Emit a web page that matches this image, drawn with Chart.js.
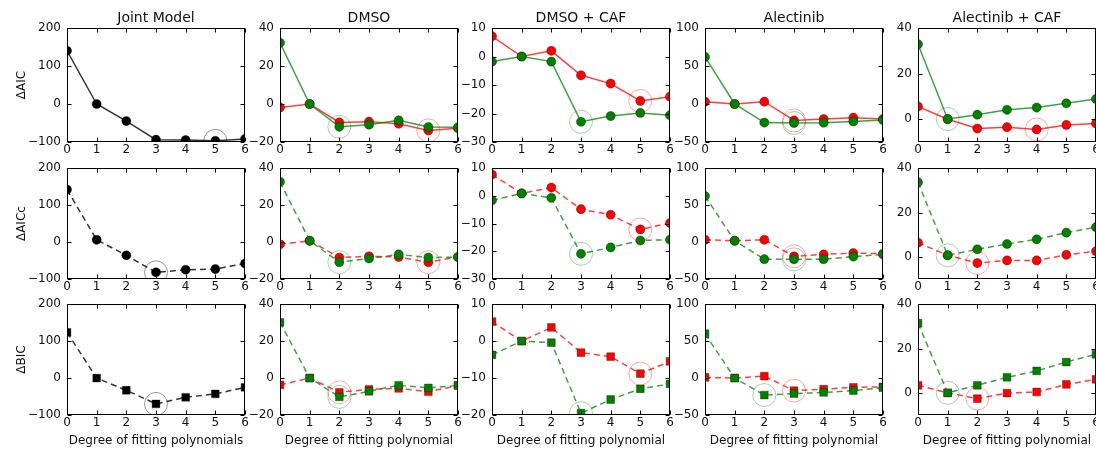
<!DOCTYPE html>
<html>
<head>
<meta charset="utf-8">
<script src="https://cdn.jsdelivr.net/npm/chart.js@4/dist/chart.umd.min.js"></script>
<style>
  html, body { margin: 0; padding: 0; background: #fff; overflow: hidden; width: 1096px; height: 449px; }
  .cell { position: absolute; }
</style>
</head>
<body>
<script>
// ---- data ----
const degrees = [0, 1, 2, 3, 4, 5, 6];
const columnTitles = ['Joint Model', 'DMSO', 'DMSO + CAF', 'Alectinib', 'Alectinib + CAF'];
const rowLabels = ['\u0394AIC', '\u0394AICc', '\u0394BIC'];
const xTitles = ['Degree of fitting polynomials', 'Degree of fitting polynomial', 'Degree of fitting polynomial',
                 'Degree of fitting polynomial', 'Degree of fitting polynomial'];

// y axis ticks / limits
const jointTicks = [-100, 0, 100, 200];
const dmsoTicks = [-20, 0, 20, 40];
const dmsoCafTicks = [-30, -20, -10, 0, 10];
const dmsoCafBicTicks = [-20, -10, 0, 10];
const alecTicks = [-50, 0, 50, 100];
const alecCafTicks = [0, 20, 40];
const jointRange = [-100, 200];
const dmsoRange = [-20, 40];
const dmsoCafRange = [-30, 10];
const dmsoCafBicRange = [-20, 10];
const alecRange = [-50, 100];
const alecCafRange = [-10, 40];

// Joint model (black)
const jointAIC  = [140, 0, -45, -94, -95, -97, -92];
const jointAICc = [142, 6, -36, -82, -75, -73, -58];
const jointBIC  = [124, 0, -33, -70, -52, -43, -25];

// DMSO
const dmsoAICRed    = [-1.8, 0, -9.7, -9.3, -10.4, -13.9, -12.7];
const dmsoAICGreen  = [32.2, 0, -12.0, -10.9, -8.6, -12.1, -12.3];
const dmsoAICcRed   = [-1.2, 0.7, -8.4, -7.7, -8.1, -10.9, -8.1];
const dmsoAICcGreen = [32.6, 0.7, -10.9, -8.9, -6.7, -8.4, -8.1];
const dmsoBICRed    = [-3.7, 0, -7.7, -6.1, -5.6, -7.4, -4.0];
const dmsoBICGreen  = [30.2, 0, -10.2, -7.2, -3.9, -5.3, -4.0];

// DMSO + CAF
const dmsoCafAICRed    = [7.1, 0, 2.0, -6.6, -9.5, -15.6, -14.1];
const dmsoCafAICGreen  = [-1.8, 0, -1.8, -22.9, -20.9, -19.8, -20.6];
const dmsoCafAICcRed   = [7.7, 0.9, 3.0, -4.8, -6.8, -12.1, -9.8];
const dmsoCafAICcGreen = [-1.6, 0.9, -0.7, -20.9, -18.6, -16.1, -15.8];
const dmsoCafBICRed    = [5.3, 0, 3.7, -3.1, -4.2, -8.8, -5.5];
const dmsoCafBICGreen  = [-3.7, 0, -0.4, -19.5, -15.8, -12.9, -11.6];

// Alectinib
const alecAICRed    = [3.1, 0, 3.1, -21.6, -19.8, -18.0, -19.8];
const alecAICGreen  = [62, 0, -24.5, -25.0, -24.6, -23.0, -21.0];
const alecAICcRed   = [3.1, 1.8, 3.1, -19.3, -16.7, -14.9, -15.8];
const alecAICcGreen = [62.3, 1.8, -23.2, -23.4, -23.2, -19.7, -16.7];
const alecBICRed    = [0.9, 0, 2.6, -17.0, -15.0, -12.5, -12.0];
const alecBICGreen  = [60, 0, -23.0, -21.0, -19.5, -17.0, -13.0];

// Alectinib + CAF
const alecCafAICRed    = [5.6, 0, -4.1, -3.5, -4.5, -2.5, -1.9];
const alecCafAICGreen  = [32.9, 0.1, 2.0, 4.1, 5.1, 7.0, 8.9];
const alecCafAICcRed   = [6.4, 0.7, -2.8, -1.6, -1.6, 0.9, 2.5];
const alecCafAICcGreen = [33.7, 0.7, 3.4, 5.8, 7.9, 10.9, 13.4];
const alecCafBICRed    = [3.4, 0, -2.6, -0.1, 0.4, 3.8, 6.1];
const alecCafBICGreen  = [31.4, 0, 3.4, 7.0, 9.9, 13.9, 17.4];

// index of the circled (best) degree
const panels = [
  {row: 0, col: 0, ticks: jointTicks, range: jointRange, black: jointAIC, blackBest: 5},
  {row: 0, col: 1, ticks: dmsoTicks, range: dmsoRange, red: dmsoAICRed, green: dmsoAICGreen, redBest: 5, greenBest: 2},
  {row: 0, col: 2, ticks: dmsoCafTicks, range: dmsoCafRange, red: dmsoCafAICRed, green: dmsoCafAICGreen, redBest: 5, greenBest: 3},
  {row: 0, col: 3, ticks: alecTicks, range: alecRange, red: alecAICRed, green: alecAICGreen, redBest: 3, greenBest: 3},
  {row: 0, col: 4, ticks: alecCafTicks, range: alecCafRange, red: alecCafAICRed, green: alecCafAICGreen, redBest: 4, greenBest: 1},

  {row: 1, col: 0, ticks: jointTicks, range: jointRange, black: jointAICc, blackBest: 3},
  {row: 1, col: 1, ticks: dmsoTicks, range: dmsoRange, red: dmsoAICcRed, green: dmsoAICcGreen, redBest: 5, greenBest: 2},
  {row: 1, col: 2, ticks: dmsoCafTicks, range: dmsoCafRange, red: dmsoCafAICcRed, green: dmsoCafAICcGreen, redBest: 5, greenBest: 3},
  {row: 1, col: 3, ticks: alecTicks, range: alecRange, red: alecAICcRed, green: alecAICcGreen, redBest: 3, greenBest: 3},
  {row: 1, col: 4, ticks: alecCafTicks, range: alecCafRange, red: alecCafAICcRed, green: alecCafAICcGreen, redBest: 2, greenBest: 1},

  {row: 2, col: 0, ticks: jointTicks, range: jointRange, black: jointBIC, blackBest: 3},
  {row: 2, col: 1, ticks: dmsoTicks, range: dmsoRange, red: dmsoBICRed, green: dmsoBICGreen, redBest: 2, greenBest: 2},
  {row: 2, col: 2, ticks: dmsoCafBicTicks, range: dmsoCafBicRange, red: dmsoCafBICRed, green: dmsoCafBICGreen, redBest: 5, greenBest: 3},
  {row: 2, col: 3, ticks: alecTicks, range: alecRange, red: alecBICRed, green: alecBICGreen, redBest: 3, greenBest: 2},
  {row: 2, col: 4, ticks: alecCafTicks, range: alecCafRange, red: alecCafBICRed, green: alecCafBICGreen, redBest: 2, greenBest: 1},
];

// ---- layout ----
const plotLefts = [67, 280, 492, 705, 918];
const plotTops = [28, 165, 301];
const plotW = 178, plotH = 114;
const axisW = 56;
const FONT = 'DejaVu Sans';
const TXT = '#111';

Chart.defaults.font.family = FONT;

function fmt(v) {
  return v < 0 ? '\u2212' + Math.abs(v) : String(v);
}

// box around the plot with inward ticks on all four sides (matplotlib classic look)
const framePlugin = {
  id: 'frame',
  afterDraw(chart) {
    const {ctx, chartArea: a, scales: {x, y}} = chart;
    const L = Math.round(a.left) + 0.5, R = Math.round(a.right) - 0.5;
    const T = Math.round(a.top) + 0.5, B = Math.round(a.bottom) - 0.5;
    ctx.save();
    ctx.strokeStyle = '#000';
    ctx.lineWidth = 1;
    ctx.strokeRect(L, T, R - L, B - T);
    ctx.beginPath();
    x.ticks.forEach(t => {
      const px = Math.round(x.getPixelForValue(t.value)) + 0.5;
      ctx.moveTo(px, B); ctx.lineTo(px, B - 4);
      ctx.moveTo(px, T); ctx.lineTo(px, T + 4);
    });
    y.ticks.forEach(t => {
      const py = Math.round(y.getPixelForValue(t.value)) + 0.5;
      ctx.moveTo(L, py); ctx.lineTo(L + 4, py);
      ctx.moveTo(R, py); ctx.lineTo(R - 4, py);
    });
    ctx.stroke();
    ctx.restore();
  }
};

function makeChart(p) {
  const topOff = p.row === 0 ? 20 : 10;
  const xH = p.row === 2 ? 37 : 22;
  const div = document.createElement('div');
  div.className = 'cell';
  div.style.left = (plotLefts[p.col] - axisW) + 'px';
  div.style.top = (plotTops[p.row] - topOff) + 'px';
  div.style.width = (axisW + plotW + axisW) + 'px';
  div.style.height = (topOff + plotH + xH) + 'px';
  const cv = document.createElement('canvas');
  div.appendChild(cv);
  document.body.appendChild(div);

  const dash = p.row > 0 ? [6, 4] : [];
  const shape = p.row === 2 ? 'rect' : 'circle';
  const rad = p.row === 2 ? 5.5 : 4.6;
  const datasets = [];

  function series(vals, lineCol, fillCol, best, ringCol, order) {
    datasets.push({
      data: degrees.map((d, i) => ({x: d, y: vals[i]})),
      borderColor: lineCol,
      borderWidth: 1.5,
      borderDash: dash,
      pointStyle: shape,
      pointRadius: rad,
      pointBackgroundColor: fillCol,
      pointBorderColor: 'rgba(0,0,0,0.55)',
      pointBorderWidth: 0.6,
      clip: 0,
      order: order
    });
    datasets.push({
      data: [{x: degrees[best], y: vals[best]}],
      showLine: false,
      pointStyle: 'circle',
      pointRadius: 11.5,
      pointBackgroundColor: 'rgba(0,0,0,0)',
      pointBorderColor: ringCol,
      pointBorderWidth: 1,
      clip: 0,
      order: 0
    });
  }

  if (p.black) {
    series(p.black, 'rgba(0,0,0,0.8)', '#000', p.blackBest, 'rgba(0,0,0,0.4)', 1);
  } else {
    series(p.red, 'rgba(255,0,0,0.75)', '#ff0000', p.redBest, 'rgba(255,0,0,0.35)', 2);
    series(p.green, 'rgba(0,128,0,0.75)', '#008000', p.greenBest, 'rgba(0,128,0,0.35)', 1);
  }

  new Chart(cv, {
    type: 'line',
    data: {datasets: datasets},
    options: {
      responsive: true,
      maintainAspectRatio: false,
      animation: false,
      events: [],
      layout: {padding: {left: 0, right: axisW, top: p.row === 0 ? 0 : 10, bottom: 0}},
      plugins: {
        legend: {display: false},
        tooltip: {enabled: false},
        title: {
          display: p.row === 0,
          fullSize: false,
          text: columnTitles[p.col],
          color: TXT,
          font: {family: FONT, size: 14, weight: 'normal', lineHeight: '16px'},
          padding: {top: 2, bottom: 2}
        }
      },
      scales: {
        x: {
          type: 'linear',
          min: 0,
          max: 6,
          afterBuildTicks: s => { s.ticks = degrees.map(v => ({value: v})); },
          afterFit: s => { s.height = xH; },
          grid: {display: false, drawTicks: false},
          border: {display: false},
          ticks: {padding: 1, color: TXT, font: {family: FONT, size: 12}, maxRotation: 0, autoSkip: false},
          title: {
            display: p.row === 2,
            text: xTitles[p.col],
            color: TXT,
            font: {family: FONT, size: 12, lineHeight: '14px'},
            padding: {top: 4, bottom: 4}
          }
        },
        y: {
          type: 'linear',
          min: p.range[0],
          max: p.range[1],
          afterBuildTicks: s => { s.ticks = p.ticks.map(v => ({value: v})); },
          afterFit: s => { s.width = axisW; },
          grid: {display: false, drawTicks: false},
          border: {display: false},
          ticks: {padding: 6, color: TXT, font: {family: FONT, size: 12}, callback: v => fmt(v)},
          title: {
            display: p.col === 0,
            text: rowLabels[p.row],
            color: TXT,
            font: {family: FONT, size: 12, lineHeight: '14px'},
            padding: {top: 4, bottom: 4}
          }
        }
      }
    },
    plugins: [framePlugin]
  });
}

panels.forEach(makeChart);
</script>
</body>
</html>
